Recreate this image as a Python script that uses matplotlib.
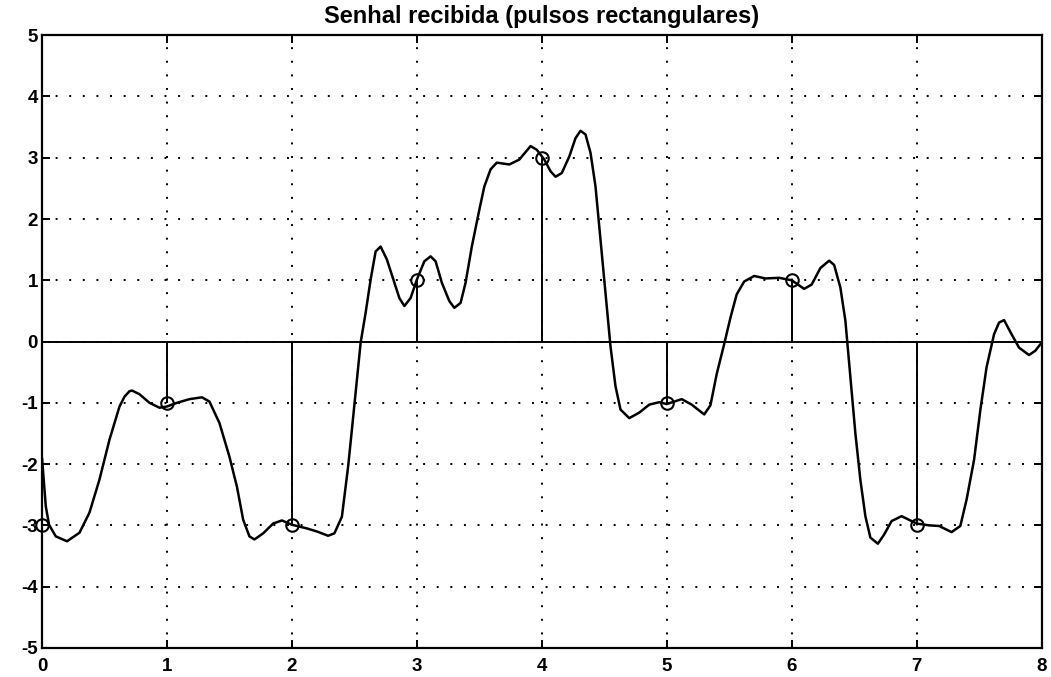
import matplotlib
matplotlib.use("Agg")
import matplotlib.pyplot as plt

# symbols sent at t = 0..7 (stems)
sym_t = [0, 1, 2, 3, 4, 5, 6, 7]
sym_v = [-3, -1, -3, 1, 3, -1, 1, -3]

# received signal
sig_t = [0.00, 0.03, 0.056, 0.11, 0.20, 0.30, 0.38, 0.46, 0.54, 0.62, 0.66, 0.70, 0.72, 0.78,
         0.86, 0.94, 1.00, 1.08, 1.18, 1.28, 1.34, 1.42, 1.50, 1.56, 1.61, 1.66, 1.70, 1.77,
         1.85, 1.92, 2.00, 2.12, 2.20, 2.29, 2.34, 2.40, 2.45, 2.48, 2.55, 2.59, 2.63, 2.67,
         2.71, 2.76, 2.82, 2.86, 2.90, 2.95, 3.00, 3.06, 3.11, 3.15, 3.20, 3.26, 3.30, 3.35,
         3.39, 3.44, 3.50, 3.54, 3.59, 3.64, 3.74, 3.82, 3.91, 3.96, 4.02, 4.07, 4.11, 4.16,
         4.22, 4.27, 4.31, 4.35, 4.39, 4.43, 4.47, 4.51, 4.55, 4.59, 4.63, 4.70, 4.78, 4.86,
         4.94, 5.00, 5.12, 5.20, 5.30, 5.35, 5.40, 5.46, 5.51, 5.56, 5.62, 5.70, 5.79, 5.90,
         6.00, 6.10, 6.16, 6.23, 6.30, 6.34, 6.39, 6.43, 6.47, 6.51, 6.55, 6.59, 6.63, 6.69,
         6.74, 6.80, 6.88, 7.00, 7.10, 7.18, 7.28, 7.35, 7.40, 7.46, 7.51, 7.56, 7.62, 7.66,
         7.70, 7.76, 7.82, 7.90, 7.95, 8.00]
sig_v = [-1.90, -2.69, -2.99, -3.18, -3.26, -3.12, -2.79, -2.25, -1.60, -1.06, -0.90, -0.81, -0.80, -0.86,
         -1.00, -1.08, -1.06, -1.00, -0.94, -0.91, -0.98, -1.33, -1.88, -2.37, -2.91, -3.18, -3.23, -3.13,
         -2.97, -2.92, -2.99, -3.05, -3.10, -3.17, -3.13, -2.86, -2.04, -1.44, -0.02, 0.47, 1.01, 1.47,
         1.55, 1.34, 0.96, 0.71, 0.58, 0.71, 1.01, 1.31, 1.39, 1.31, 0.96, 0.66, 0.55, 0.63,
         0.96, 1.55, 2.15, 2.53, 2.81, 2.92, 2.89, 2.97, 3.19, 3.13, 2.97, 2.78, 2.69, 2.75,
         3.02, 3.32, 3.44, 3.38, 3.08, 2.53, 1.66, 0.79, -0.08, -0.73, -1.11, -1.25, -1.16, -1.03,
         -0.99, -1.02, -0.94, -1.03, -1.19, -1.04, -0.53, -0.04, 0.39, 0.77, 0.98, 1.07, 1.03, 1.04,
         1.00, 0.86, 0.93, 1.20, 1.32, 1.25, 0.88, 0.34, -0.58, -1.50, -2.26, -2.85, -3.20, -3.30,
         -3.15, -2.93, -2.85, -2.97, -3.00, -3.01, -3.11, -3.01, -2.58, -1.93, -1.12, -0.42, 0.12, 0.31,
         0.35, 0.12, -0.10, -0.22, -0.15, -0.02]

plt.rcParams['font.family'] = ['Liberation Sans', 'DejaVu Sans']
plt.rcParams['axes.unicode_minus'] = False

fig = plt.figure(figsize=(10.51, 6.77), dpi=100)
ax = fig.add_axes([0.040, 0.043, 0.951, 0.905])

ax.plot(sig_t, sig_v, color='black', lw=1.8, zorder=3,
        solid_joinstyle='round', solid_capstyle='round')
ax.axhline(0, color='black', lw=1.4, zorder=2)
ax.vlines(sym_t, 0, sym_v, color='black', lw=1.4, zorder=2)
ax.plot(sym_t, sym_v, 'o', ms=9, mfc='none', mec='black', mew=1.5, zorder=4, clip_on=False)

ax.set_xlim(0, 8)
ax.set_ylim(-5, 5)
ax.set_xticks(range(0, 9))
ax.set_yticks(range(-5, 6))
ax.grid(True, color='black', linestyle=(0, (1, 6)), linewidth=1.4)
ax.tick_params(direction='in', length=6, width=1.4, top=True, right=True,
               labelsize=13.5)
ax.tick_params(axis='x', pad=7)
ax.tick_params(axis='y', pad=3)
for lab in ax.get_xticklabels() + ax.get_yticklabels():
    lab.set_fontweight('bold')
for s in ax.spines.values():
    s.set_linewidth(1.6)

ax.set_title("Senhal recibida (pulsos rectangulares)", fontsize=17, fontweight='bold', pad=9)

fig.savefig("out.png", dpi=100)
